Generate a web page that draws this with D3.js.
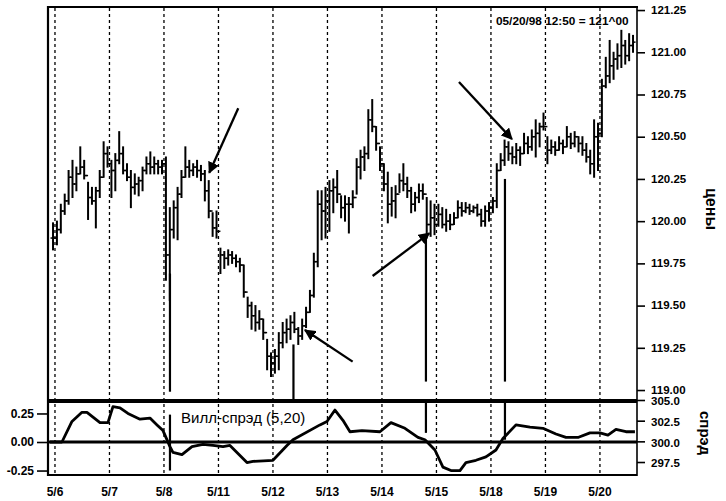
<!DOCTYPE html>
<html><head><meta charset="utf-8">
<script src="https://cdn.jsdelivr.net/npm/d3@7"></script>
<style>body{margin:0;background:#fff} svg{display:block}</style>
</head><body>
<svg id="c" width="726" height="501"></svg>
<script>
// ---- data ----
const days = ["5/6","5/7","5/8","5/11","5/12","5/13","5/14","5/15","5/18","5/19","5/20"];
// each bar: [high, low, close]
const bars0506 = [[119.99,119.83,119.90],[120.00,119.86,119.95],[120.10,119.93,120.06],[120.16,120.04,120.12],[120.30,120.10,120.26],[120.36,120.14,120.22],[120.32,120.18,120.28],[120.44,120.28,120.32],[120.36,120.25,120.27],[120.23,120.01,120.14],[120.20,120.10,120.12],[120.20,119.96,120.18],[120.30,120.14,120.26],[120.47,120.26,120.40]];
const bars0507 = [[120.44,120.32,120.34],[120.36,120.14,120.30],[120.40,120.18,120.36],[120.53,120.34,120.40],[120.44,120.28,120.30],[120.34,120.24,120.26],[120.30,120.08,120.20],[120.28,120.16,120.22],[120.26,120.15,120.24],[120.32,120.18,120.30],[120.38,120.28,120.34],[120.41,120.28,120.32],[120.38,120.28,120.34],[120.36,120.28,120.32]];
const bars0508 = [[120.36,120.28,120.34],[120.38,119.65,119.80],[120.08,119.53,119.95],[120.12,119.90,120.08],[120.20,119.89,120.16],[120.30,120.14,120.26],[120.44,120.26,120.32],[120.36,120.26,120.30],[120.34,120.27,120.32],[120.36,120.26,120.30],[120.33,120.24,120.28],[120.30,120.12,120.18],[120.24,120.02,120.06],[120.05,119.91,119.96]];
const bars0511 = [[120.06,119.90,119.94],[119.84,119.69,119.80],[119.82,119.72,119.78],[119.83,119.74,119.80],[119.82,119.75,119.78],[119.80,119.73,119.76],[119.78,119.70,119.74],[119.74,119.55,119.58],[119.55,119.43,119.50],[119.52,119.36,119.44],[119.50,119.35,119.40],[119.47,119.36,119.42],[119.42,119.30,119.34],[119.30,119.12,119.20]];
const bars0512 = [[119.22,119.08,119.16],[119.24,119.10,119.20],[119.34,119.12,119.28],[119.40,119.25,119.34],[119.42,119.28,119.36],[119.44,119.30,119.40],[119.46,119.34,119.36],[119.37,119.27,119.32],[119.42,119.30,119.38],[119.49,119.37,119.46],[119.59,119.46,119.56],[119.81,119.55,119.76],[120.18,119.73,120.10],[120.18,119.89,120.06]];
const bars0513 = [[120.20,119.90,120.12],[120.24,119.94,120.18],[120.25,120.05,120.20],[120.30,120.11,120.16],[120.15,120.02,120.08],[120.15,120.00,120.10],[120.14,119.93,120.10],[120.18,120.08,120.14],[120.37,120.16,120.32],[120.42,120.25,120.38],[120.44,120.30,120.40],[120.66,120.37,120.60],[120.72,120.53,120.56],[120.56,120.42,120.46]];
const bars0514 = [[120.44,120.30,120.34],[120.34,120.18,120.22],[120.29,119.99,120.10],[120.20,120.03,120.12],[120.21,120.02,120.16],[120.28,120.17,120.24],[120.34,120.18,120.22],[120.26,120.14,120.18],[120.20,120.05,120.10],[120.17,120.06,120.14],[120.22,120.11,120.18],[120.22,120.13,120.16],[120.14,119.90,119.98],[120.12,119.91,120.02]];
const bars0515 = [[120.10,119.92,119.98],[120.10,119.97,120.04],[120.08,119.96,119.98],[120.07,119.94,120.00],[120.04,119.95,119.98],[120.05,119.98,120.02],[120.12,120.02,120.08],[120.11,120.03,120.06],[120.11,120.05,120.08],[120.10,120.04,120.06],[120.09,120.05,120.08],[120.10,120.03,120.04],[120.07,119.97,120.00],[120.09,119.97,120.06]];
const bars0518 = [[120.11,120.00,120.08],[120.14,120.05,120.12],[120.34,120.08,120.30],[120.40,120.30,120.36],[120.48,120.33,120.44],[120.47,120.36,120.40],[120.44,120.34,120.38],[120.46,120.34,120.42],[120.44,120.33,120.40],[120.52,120.40,120.46],[120.50,120.40,120.44],[120.54,120.42,120.50],[120.60,120.38,120.52],[120.58,120.44,120.56]];
const bars0519 = [[120.64,120.54,120.56],[120.50,120.34,120.42],[120.48,120.40,120.44],[120.47,120.39,120.42],[120.50,120.42,120.46],[120.48,120.40,120.44],[120.56,120.44,120.50],[120.52,120.43,120.46],[120.53,120.44,120.50],[120.50,120.41,120.46],[120.50,120.39,120.42],[120.46,120.35,120.38],[120.42,120.28,120.34],[120.60,120.26,120.50]];
const bars0520 = [[120.58,120.30,120.52],[120.84,120.50,120.80],[120.97,120.79,120.86],[121.07,120.82,120.92],[121.00,120.84,120.96],[121.05,120.90,120.98],[121.13,120.91,121.04],[121.07,120.93,120.98],[121.11,120.95,121.04],[121.10,121.00,121.06]];
const barsPerDay = 14;

// Williams spread line: [time in days from 5/6, value]
const spreadTime = [-0.092,0.128,0.312,0.495,0.587,0.826,0.972,1.064,1.193,1.339,1.560,1.743,1.872,1.982,2.110,2.165,2.330,2.514,2.716,2.899,3.083,3.211,3.523,3.633,4.0,4.257,4.367,4.862,4.991,5.138,5.284,5.413,5.633,5.963,6.165,6.422,6.661,6.789,6.972,7.119,7.266,7.431,7.541,7.725,7.908,8.092,8.220,8.459,8.716,8.954,9.193,9.376,9.596,9.817,10.0,10.147,10.294,10.477,10.642];
const spreadValue = [0.0,0.0,0.18,0.26,0.26,0.17,0.17,0.31,0.30,0.25,0.20,0.21,0.15,0.10,-0.04,-0.09,-0.11,-0.04,-0.02,-0.03,-0.04,-0.03,-0.18,-0.17,-0.16,-0.03,0.02,0.15,0.18,0.28,0.19,0.09,0.10,0.09,0.17,0.12,0.04,0.02,-0.07,-0.22,-0.25,-0.25,-0.18,-0.16,-0.13,-0.07,0.03,0.15,0.13,0.12,0.07,0.04,0.04,0.08,0.08,0.06,0.11,0.09,0.09];

const priceTicks = [119.00,119.25,119.50,119.75,120.00,120.25,120.50,120.75,121.00,121.25];
const spreadTicks = [-0.25,0.00,0.25];
const spreadRightTicks = [297.5,300.0,302.5,305.0];

// vertical signal lines: time, price from/to, spread from/to
const signalTime = [2.110, 4.376, 6.807, 8.257];
const signalPrice = [[119.69,118.99],[119.27,118.945],[119.92,119.05],[120.25,119.05]];
const signalSpread = [[0.24,-0.25],null,[0.36,0.08],[0.36,0.02]];

// arrows: [t0, p0, t1(tip), p1(tip)]
const arrows = [[3.363,120.668,2.831,120.287],[5.462,119.168,4.587,119.355],[5.829,119.675,6.868,119.928],[7.413,120.824,8.385,120.486]];

const quoteText = "05/20/98 12:50 = 121^00";
const indicatorTitle = "Вилл-спрэд (5,20)";

// ---- drawing ----
const svg = d3.select("#c");
const L = 48, R = 637, T = 6, MID = 400, B = 475;
const x = d3.scaleLinear().domain([-0.128, 10.68]).range([L, R]);
const yP = d3.scaleLinear().domain([118.941, 121.274]).range([MID, T]);
const yS = d3.scaleLinear().domain([-0.289, 0.368]).range([B, MID]);
const yR = d3.scaleLinear().domain([295.93, 305]).range([B, MID]);
const FONT = "'Liberation Sans', Arial, sans-serif";

// gridlines
svg.append("g").selectAll("line").data(days).join("line")
  .attr("x1", (d,i)=>x(i)).attr("x2", (d,i)=>x(i))
  .attr("y1", T+2).attr("y2", B)
  .attr("stroke","#000").attr("stroke-width",1.3).attr("stroke-dasharray","3,3");

// bars
const allDays = [bars0506,bars0507,bars0508,bars0511,bars0512,bars0513,bars0514,bars0515,bars0518,bars0519,bars0520];
const bars = [];
let prevClose = null;
allDays.forEach((arr, d) => arr.forEach((b, j) => {
  bars.push({t: d + (j - 0.5)/barsPerDay, hi: b[0], lo: b[1], close: b[2], open: prevClose === null ? b[2] : prevClose});
  prevClose = b[2];
}));
const gb = svg.append("g").attr("stroke","#000").attr("stroke-width",2);
gb.selectAll("line.v").data(bars).join("line").attr("class","v")
  .attr("x1", d=>x(d.t)).attr("x2", d=>x(d.t))
  .attr("y1", d=>yP(d.hi)-0.5).attr("y2", d=>yP(d.lo)+0.5);
gb.selectAll("line.o").data(bars).join("line").attr("class","o")
  .attr("x1", d=>x(d.t)-2.5).attr("x2", d=>x(d.t))
  .attr("y1", d=>yP(d.open)).attr("y2", d=>yP(d.open)).attr("stroke-width",1.5);
gb.selectAll("line.c").data(bars).join("line").attr("class","c")
  .attr("x1", d=>x(d.t)).attr("x2", d=>x(d.t)+2.5)
  .attr("y1", d=>yP(d.close)).attr("y2", d=>yP(d.close)).attr("stroke-width",1.5);

// signal lines
const gs = svg.append("g").attr("stroke","#000").attr("stroke-width",2.2);
signalTime.forEach((t,i) => {
  gs.append("line").attr("x1",x(t)).attr("x2",x(t)).attr("y1",yP(signalPrice[i][0])).attr("y2",yP(signalPrice[i][1]));
  if (signalSpread[i]) gs.append("line").attr("x1",x(t)).attr("x2",x(t)).attr("y1",yS(signalSpread[i][0])).attr("y2",yS(signalSpread[i][1]));
});

// spread line
const spread = spreadTime.map((t,i)=>[t, spreadValue[i]]);
svg.append("path").datum(spread)
  .attr("d", d3.line().x(d=>x(d[0])).y(d=>yS(d[1])))
  .attr("fill","none").attr("stroke","#000").attr("stroke-width",2.8).attr("stroke-linejoin","round");

// frame
const gf = svg.append("g").attr("stroke","#000");
gf.append("line").attr("x1",L-1).attr("x2",R+1).attr("y1",T+1).attr("y2",T+1).attr("stroke-width",2.2);
gf.append("line").attr("x1",L).attr("x2",L).attr("y1",T).attr("y2",B+1).attr("stroke-width",2.2);
gf.append("line").attr("x1",R).attr("x2",R).attr("y1",T).attr("y2",B+1).attr("stroke-width",1.6);
gf.append("line").attr("x1",L).attr("x2",R).attr("y1",B).attr("y2",B).attr("stroke-width",2);
gf.append("line").attr("x1",L).attr("x2",R).attr("y1",MID+1).attr("y2",MID+1).attr("stroke-width",4);
gf.append("line").attr("x1",L).attr("x2",R).attr("y1",yS(0)).attr("y2",yS(0)).attr("stroke-width",3);

// arrows
svg.append("defs").append("marker").attr("id","ah").attr("viewBox","0 0 10 10")
  .attr("refX",9).attr("refY",5).attr("markerWidth",5).attr("markerHeight",5)
  .attr("markerUnits","strokeWidth").attr("orient","auto")
  .append("path").attr("d","M0,0 L10,5 L0,10 Z").attr("fill","#000");
svg.append("g").selectAll("line").data(arrows).join("line")
  .attr("x1",d=>x(d[0])).attr("y1",d=>yP(d[1])).attr("x2",d=>x(d[2])).attr("y2",d=>yP(d[3]))
  .attr("stroke","#000").attr("stroke-width",2.3).attr("marker-end","url(#ah)");

// axes
function styleAxis(g){
  g.select(".domain").remove();
  g.selectAll(".tick line").attr("stroke","#000").attr("stroke-width",1.6);
  g.selectAll(".tick text").attr("fill","#000").attr("font-family",FONT).attr("font-weight","bold").attr("font-size","11.5px");
}
svg.append("g").attr("transform",`translate(${R},0)`)
  .call(d3.axisRight(yP).tickValues(priceTicks).tickFormat(d3.format(".2f")).tickSize(8).tickPadding(6))
  .call(styleAxis)
  .selectAll(".tick text").attr("dy","0.28em");
svg.append("g").attr("transform",`translate(${R},0)`)
  .call(d3.axisRight(yR).tickValues(spreadRightTicks).tickFormat(d3.format(".1f")).tickSize(8).tickPadding(6))
  .call(styleAxis)
  .selectAll(".tick text").attr("dy","0.42em");
svg.append("g").attr("transform",`translate(${L},0)`)
  .call(d3.axisLeft(yS).tickValues(spreadTicks).tickFormat(d=>d3.format(".2f")(d).replace("−","-")).tickSize(11).tickPadding(3))
  .call(styleAxis)
  .selectAll(".tick text").attr("font-size","12px");

// x labels
svg.append("g").selectAll("text").data(days).join("text")
  .attr("x",(d,i)=>x(i)).attr("y",496).attr("text-anchor","middle")
  .attr("font-family",FONT).attr("font-weight","bold").attr("font-size","12px").text(d=>d);

// texts
svg.append("text").attr("x",496).attr("y",25).attr("font-family",FONT).attr("font-size","11.8px").attr("font-weight","bold").text(quoteText);
svg.append("text").attr("x",181).attr("y",423).attr("font-family",FONT).attr("font-size","15px").text(indicatorTitle);
svg.append("text").attr("transform","translate(706,188) rotate(90)").attr("font-family",FONT).attr("font-weight","bold").attr("font-size","16px").text("цены");
svg.append("text").attr("transform","translate(700,411) rotate(90)").attr("font-family",FONT).attr("font-weight","bold").attr("font-size","15px").text("спрэд");
</script>
</body></html>
